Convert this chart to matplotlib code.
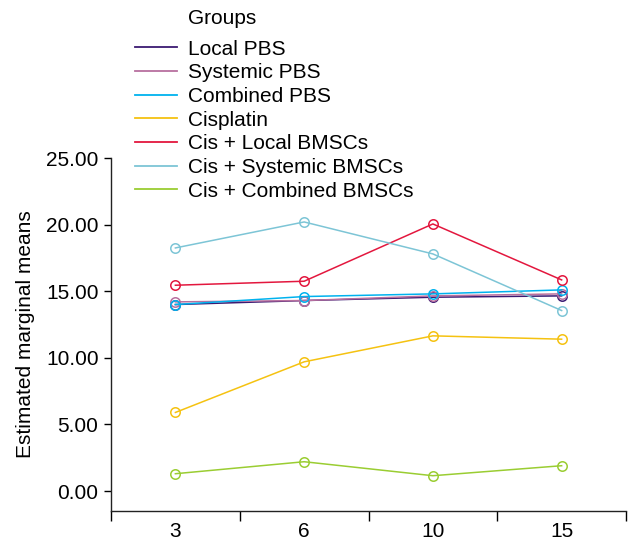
import matplotlib
matplotlib.use("Agg")
import matplotlib.pyplot as plt
from matplotlib.lines import Line2D

plt.rcParams["font.family"] = ["Liberation Sans", "DejaVu Sans"]

days = ["3", "6", "10", "15"]
groups = ["Local PBS", "Systemic PBS", "Combined PBS", "Cisplatin",
          "Cis + Local BMSCs", "Cis + Systemic BMSCs", "Cis + Combined BMSCs"]
colors = ["#3B1A72", "#B8709F", "#00B2EE", "#F5C211",
          "#E3173E", "#7DC5D6", "#9ACD32"]

local_pbs = [14.0, 14.3, 14.55, 14.65]
systemic_pbs = [14.2, 14.3, 14.65, 14.8]
combined_pbs = [14.0, 14.6, 14.8, 15.1]
cisplatin = [5.9, 9.7, 11.65, 11.4]
cis_local = [15.45, 15.75, 20.05, 15.85]
cis_systemic = [18.25, 20.2, 17.8, 13.55]
cis_combined = [1.3, 2.2, 1.15, 1.9]
series = [local_pbs, systemic_pbs, combined_pbs, cisplatin,
          cis_local, cis_systemic, cis_combined]

yticks = [0, 5, 10, 15, 20, 25]
FS = 15

fig = plt.figure(figsize=(6.28, 5.43), dpi=100)
ax = fig.add_axes([0.1768, 0.0589, 0.82, 0.6501])

x = list(range(len(days)))
for vals, col in zip(series, colors):
    ax.plot(x, vals, color=col, lw=1.1, marker="o", markersize=6.8,
            markerfacecolor="none", markeredgecolor=col, markeredgewidth=1.1)

ax.set_xlim(-0.5, len(days) - 0.5)
ax.set_ylim(-1.5, 25)

# ticks sit between the categories, labels at the category centres
ax.set_xticks([i - 0.5 for i in range(len(days) + 1)])
ax.set_xticklabels([])
ax.set_xticks(x, minor=True)
ax.set_xticklabels(days, minor=True)
ax.tick_params(axis="x", which="major", direction="out", length=7, width=1)
ax.tick_params(axis="x", which="minor", length=0, pad=8, labelsize=FS)

ax.set_yticks(yticks)
ax.set_yticklabels([f"{v:.2f}" for v in yticks])
ax.tick_params(axis="y", direction="out", length=5, width=1, labelsize=FS, pad=4)

for s in ["top", "right"]:
    ax.spines[s].set_visible(False)
for s in ["left", "bottom"]:
    ax.spines[s].set_linewidth(1)
    ax.spines[s].set_color("#222222")

ax.set_ylabel("Estimated marginal means", fontsize=FS, labelpad=8)

handles = [Line2D([0], [0], color=c, lw=1.3) for c in colors]
fig.legend(handles, groups, loc="upper left",
           bbox_to_anchor=(0.215, 0.927), frameon=False, borderaxespad=0,
           borderpad=0, fontsize=FS, handlelength=2.0,
           handletextpad=0.53, labelspacing=0.225)
fig.text(188 / 628, 1 - 19 / 543, "Groups", fontsize=FS, ha="left", va="center")

fig.savefig("out.png", dpi=100)
